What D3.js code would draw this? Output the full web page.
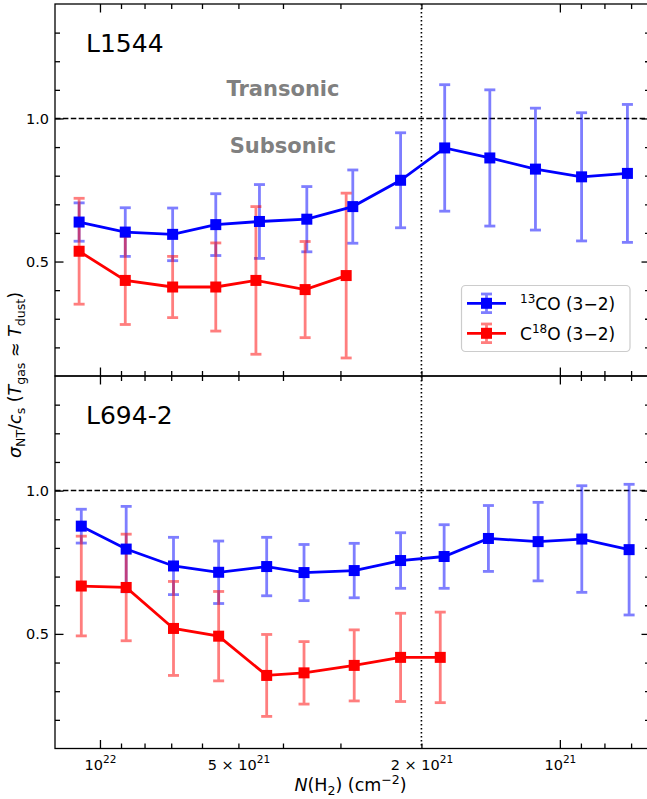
<!DOCTYPE html>
<html>
<head>
<meta charset="utf-8">
<script src="https://cdn.jsdelivr.net/npm/d3@7"></script>
<style>
  body { margin: 0; background: #fff; }
  svg { display: block; font-family: "DejaVu Sans", sans-serif; }
</style>
</head>
<body>
<svg id="chart" width="647" height="799"></svg>
<script>
// ---------------- data ----------------
const panelNames = ["L1544", "L694-2"];
const seriesNames = ["13CO (3-2)", "C18O (3-2)"];

// L1544, 13CO
const topBlueN   = [1.11e22, 8.81e21, 6.95e21, 5.60e21, 4.50e21, 3.55e21, 2.82e21, 2.22e21, 1.78e21, 1.42e21, 1.13e21, 8.97e20, 7.13e20];
const topBlueVal = [0.638, 0.603, 0.595, 0.629, 0.640, 0.648, 0.692, 0.784, 0.897, 0.862, 0.823, 0.796, 0.808];
const topBlueErr = [0.067, 0.085, 0.092, 0.108, 0.129, 0.114, 0.128, 0.166, 0.221, 0.238, 0.213, 0.224, 0.241];
// L1544, C18O
const topRedN   = [1.11e22, 8.81e21, 6.95e21, 5.60e21, 4.58e21, 3.58e21, 2.915e21];
const topRedVal = [0.536, 0.434, 0.411, 0.411, 0.434, 0.402, 0.451];
const topRedErr = [0.185, 0.154, 0.107, 0.154, 0.258, 0.168, 0.288];
// L694-2, 13CO
const botBlueN   = [1.098e22, 8.77e21, 6.92e21, 5.52e21, 4.34e21, 3.60e21, 2.80e21, 2.22e21, 1.785e21, 1.43e21, 1.115e21, 8.96e20, 7.07e20];
const botBlueVal = [0.876, 0.796, 0.737, 0.715, 0.735, 0.714, 0.721, 0.756, 0.770, 0.833, 0.822, 0.831, 0.794];
const botBlueErr = [0.059, 0.149, 0.100, 0.109, 0.102, 0.098, 0.095, 0.097, 0.111, 0.115, 0.137, 0.186, 0.228];
// L694-2, C18O
const botRedN   = [1.098e22, 8.77e21, 6.92e21, 5.52e21, 4.34e21, 3.60e21, 2.80e21, 2.22e21, 1.82e21];
const botRedVal = [0.667, 0.662, 0.519, 0.492, 0.355, 0.364, 0.390, 0.418, 0.418];
const botRedErr = [0.174, 0.186, 0.164, 0.156, 0.143, 0.109, 0.124, 0.154, 0.158];

// axes
const xDomain = [1.2525e22, 6.368e20];
const yDomain = [0.1, 1.4];
const xLabeledTicks = [1e22, 5e21, 2e21, 1e21];
const xTickLabels = [["10", "22"], ["5 \u00d7 10", "21"], ["2 \u00d7 10", "21"], ["10", "21"]];
const xMajorTicks = [1e22, 1e21];
const xMinorTicks = [9e21, 8e21, 7e21, 6e21, 5e21, 4e21, 3e21, 2e21, 9e20, 8e20, 7e20];
const yMajorTicks = [0.5, 1.0];
const yTickLabels = ["0.5", "1.0"];
const yMinorTicks = [0.2, 0.3, 0.4, 0.6, 0.7, 0.8, 0.9, 1.1, 1.2, 1.3];
const sonicLevel = 1.0;
const vLineN = 2e21;
const regimeLabels = ["Transonic", "Subsonic"];
const regimeLabelN = 4e21;

// ---------------- layout ----------------
const FONT = "DejaVu Sans";
const svg = d3.select("#chart");
const L = 55, R = 650;
const panels = [
  { top: 4, bottom: 376, name: panelNames[0],
    series: [
      { N: topBlueN, v: topBlueVal, e: topBlueErr, color: "#0000ff" },
      { N: topRedN, v: topRedVal, e: topRedErr, color: "#ff0000" }
    ] },
  { top: 376, bottom: 748.5, name: panelNames[1],
    series: [
      { N: botBlueN, v: botBlueVal, e: botBlueErr, color: "#0000ff" },
      { N: botRedN, v: botRedVal, e: botRedErr, color: "#ff0000" }
    ] }
];

const x = d3.scaleLog().domain(xDomain).range([L, R]);
const MAJ = 8.5, MIN = 5, SW = 1.3;
const capHalf = 5.5, msize = 11;

panels.forEach((p, pi) => {
  const y = d3.scaleLinear().domain(yDomain).range([p.bottom, p.top]);
  const g = svg.append("g");

  // reference lines
  g.append("line").attr("x1", L).attr("x2", R)
    .attr("y1", y(sonicLevel)).attr("y2", y(sonicLevel))
    .attr("stroke", "#000").attr("stroke-width", 1.5).attr("stroke-dasharray", "5.5,2.4");
  g.append("line").attr("x1", x(vLineN)).attr("x2", x(vLineN))
    .attr("y1", p.top).attr("y2", p.bottom)
    .attr("stroke", "#000").attr("stroke-width", 1.6).attr("stroke-dasharray", "1.6,2.4");

  // error bars (all first)
  p.series.forEach(s => {
    const eg = g.append("g").attr("opacity", 0.5);
    s.N.forEach((n, i) => {
      const cx = x(n), y1 = y(s.v[i] + s.e[i]), y0 = y(s.v[i] - s.e[i]);
      eg.append("line").attr("x1", cx).attr("x2", cx).attr("y1", y1).attr("y2", y0)
        .attr("stroke", s.color).attr("stroke-width", 2.8);
      [y1, y0].forEach(yy => eg.append("line")
        .attr("x1", cx - capHalf).attr("x2", cx + capHalf).attr("y1", yy).attr("y2", yy)
        .attr("stroke", s.color).attr("stroke-width", 2.8));
    });
  });
  // lines and markers
  p.series.forEach(s => {
    const pts = s.N.map((n, i) => [x(n), y(s.v[i])]);
    g.append("path").attr("d", d3.line()(pts)).attr("fill", "none")
      .attr("stroke", s.color).attr("stroke-width", 2.8);
    g.selectAll(null).data(pts).enter().append("rect")
      .attr("x", d => d[0] - msize / 2).attr("y", d => d[1] - msize / 2)
      .attr("width", msize).attr("height", msize).attr("fill", s.color);
  });

  // axes ticks (inward, all sides)
  const yMajAxisL = d3.axisLeft(y).tickValues(yMajorTicks).tickSize(-MAJ).tickPadding(6)
    .tickFormat((d, i) => yTickLabels[i]);
  const yMinAxisL = d3.axisLeft(y).tickValues(yMinorTicks).tickSize(-MIN).tickFormat("");
  const yMajAxisR = d3.axisRight(y).tickValues(yMajorTicks).tickSize(-MAJ).tickFormat("");
  const yMinAxisR = d3.axisRight(y).tickValues(yMinorTicks).tickSize(-MIN).tickFormat("");
  const xMajB = d3.axisBottom(x).tickValues(xMajorTicks).tickSize(-MAJ).tickFormat("");
  const xMinB = d3.axisBottom(x).tickValues(xMinorTicks).tickSize(-MIN).tickFormat("");
  const xMajT = d3.axisTop(x).tickValues(xMajorTicks).tickSize(-MAJ).tickFormat("");
  const xMinT = d3.axisTop(x).tickValues(xMinorTicks).tickSize(-MIN).tickFormat("");

  const addAxis = (ax, tx, ty) => {
    const a = g.append("g").attr("transform", `translate(${tx},${ty})`).call(ax)
      .attr("font-family", FONT);
    a.select(".domain").remove();
    a.selectAll(".tick line").attr("stroke", "#000").attr("stroke-width", SW);
    a.selectAll(".tick text").attr("font-size", 14.5).attr("fill", "#000")
      .attr("font-family", FONT);
    return a;
  };
  addAxis(yMajAxisL, L, 0);
  addAxis(yMinAxisL, L, 0);
  addAxis(yMajAxisR, R, 0);
  addAxis(yMinAxisR, R, 0);
  addAxis(xMinB, 0, p.bottom);
  addAxis(xMajB, 0, p.bottom);
  addAxis(xMinT, 0, p.top);
  addAxis(xMajT, 0, p.top);

  if (pi === 1) {
    const lab = d3.axisBottom(x).tickValues(xLabeledTicks).tickSize(0).tickPadding(10).tickFormat("");
    const a = addAxis(lab, 0, p.bottom);
    a.selectAll(".tick").each(function (d, i) {
      const t = d3.select(this).append("text").attr("y", 21).attr("text-anchor", "middle")
        .attr("font-family", FONT).attr("font-size", 14.5).attr("fill", "#000");
      t.append("tspan").text(xTickLabels[i][0]);
      t.append("tspan").attr("font-size", 10.5).attr("dy", -6.5).text(xTickLabels[i][1]);
    });
  }

  // spine
  g.append("rect").attr("x", L).attr("y", p.top).attr("width", R - L).attr("height", p.bottom - p.top)
    .attr("fill", "none").attr("stroke", "#000").attr("stroke-width", SW);

  // panel name
  g.append("text").attr("x", 86).attr("y", p.top + 48).attr("font-size", 25).attr("fill", "#000")
    .text(p.name);

  if (pi === 0) {
    g.append("text").attr("x", x(regimeLabelN)).attr("y", 96).attr("text-anchor", "middle")
      .attr("font-size", 21).attr("font-weight", "bold").attr("fill", "#808080").text(regimeLabels[0]);
    g.append("text").attr("x", x(regimeLabelN)).attr("y", 153).attr("text-anchor", "middle")
      .attr("font-size", 21).attr("font-weight", "bold").attr("fill", "#808080").text(regimeLabels[1]);

    // legend
    const lg = g.append("g");
    lg.append("rect").attr("x", 461.5).attr("y", 285.5).attr("width", 168.5).attr("height", 66)
      .attr("rx", 4).attr("fill", "#fff").attr("fill-opacity", 0.8)
      .attr("stroke", "#cccccc").attr("stroke-width", 1.2);
    const entries = [
      { color: "#0000ff", cy: 303.3, base: 309.5, sup: "13", pre: "", post: "CO (3\u22122)" },
      { color: "#ff0000", cy: 333.3, base: 339.5, sup: "18", pre: "C", post: "O (3\u22122)" }
    ];
    entries.forEach(en => {
      const hx = 486.5;
      const eg = lg.append("g").attr("opacity", 0.5);
      eg.append("line").attr("x1", hx).attr("x2", hx).attr("y1", en.cy - 9.3).attr("y2", en.cy + 9.3)
        .attr("stroke", en.color).attr("stroke-width", 2.8);
      [en.cy - 9.3, en.cy + 9.3].forEach(yy => eg.append("line")
        .attr("x1", hx - capHalf).attr("x2", hx + capHalf).attr("y1", yy).attr("y2", yy)
        .attr("stroke", en.color).attr("stroke-width", 2.8));
      lg.append("line").attr("x1", 467).attr("x2", 506).attr("y1", en.cy).attr("y2", en.cy)
        .attr("stroke", en.color).attr("stroke-width", 2.8);
      lg.append("rect").attr("x", hx - msize / 2).attr("y", en.cy - msize / 2)
        .attr("width", msize).attr("height", msize).attr("fill", en.color);
      const t = lg.append("text").attr("x", 520).attr("y", en.base).attr("font-size", 17).attr("fill", "#000");
      if (en.pre) t.append("tspan").text(en.pre);
      t.append("tspan").attr("font-size", 12).attr("dy", -7).text(en.sup);
      t.append("tspan").attr("dy", 7).text(en.post);
    });
  }
});

// axis labels
const xl = svg.append("text").attr("x", (L + R) / 2 - 2).attr("y", 791).attr("text-anchor", "middle")
  .attr("font-size", 17.5).attr("fill", "#000");
xl.append("tspan").attr("font-style", "italic").text("N");
xl.append("tspan").text("(H");
xl.append("tspan").attr("font-size", 12.5).attr("dy", 4).text("2");
xl.append("tspan").attr("dy", -4).text(") (cm");
xl.append("tspan").attr("font-size", 12.5).attr("dy", -7.5).text("\u22122");
xl.append("tspan").attr("dy", 7.5).text(")");

const yl = svg.append("text").attr("transform", "translate(21,375) rotate(-90)")
  .attr("text-anchor", "middle").attr("font-size", 17.5).attr("fill", "#000");
yl.append("tspan").attr("font-style", "italic").text("\u03c3");
yl.append("tspan").attr("font-size", 12.5).attr("dy", 4).text("NT");
yl.append("tspan").attr("dy", -4).text("/");
yl.append("tspan").attr("font-style", "italic").text("c");
yl.append("tspan").attr("font-size", 12.5).attr("dy", 4).text("s");
yl.append("tspan").attr("dy", -4).text(" (");
yl.append("tspan").attr("font-style", "italic").text("T");
yl.append("tspan").attr("font-size", 12.5).attr("dy", 4).text("gas");
yl.append("tspan").attr("dy", -4).text(" \u2248 ");
yl.append("tspan").attr("font-style", "italic").text("T");
yl.append("tspan").attr("font-size", 12.5).attr("dy", 4).text("dust");
yl.append("tspan").attr("dy", -4).text(")");
</script>
</body>
</html>
